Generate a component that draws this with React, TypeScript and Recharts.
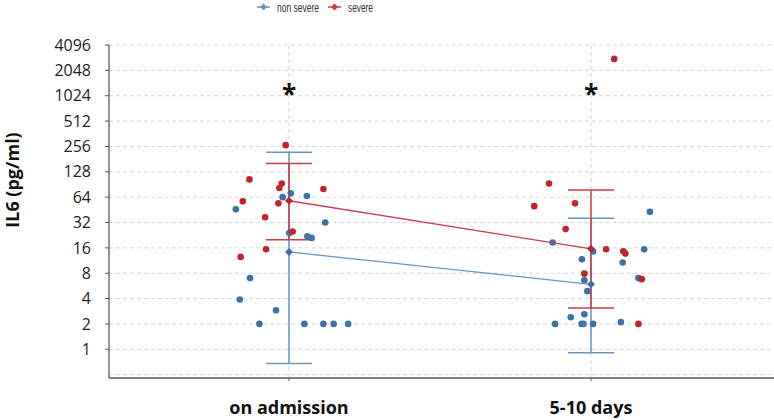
import React from 'react';
import {
  ComposedChart,
  Scatter,
  XAxis,
  YAxis,
  ErrorBar,
  ReferenceLine,
  Label,
} from 'recharts';

// category positions on the numeric x axis
const categories = ['on admission', '5-10 days'];

// y ticks (log2 spaced) and gridlines
const yTicks = [1, 2, 4, 8, 16, 32, 64, 128, 256, 512, 1024, 2048, 4096];
const gridValues = [0.5, 1, 2, 4, 8, 16, 32, 64, 128, 256, 512, 1024, 2048, 4096];

// individual patients: [x (category + jitter), IL6 pg/ml]
const nonSevereAdmission = [
  [1.006, 71], [1.059, 66], [0.979, 64], [0.824, 46], [1.12, 32], [1.001, 24],
  [1.061, 22], [1.075, 21], [0.871, 7], [0.837, 3.9], [0.957, 2.9], [0.902, 2],
  [1.051, 2], [1.114, 2], [1.148, 2], [1.196, 2],
];
const severeAdmission = [
  [0.989, 265], [0.869, 104], [0.976, 93], [0.968, 82], [1.114, 80], [0.847, 57],
  [0.965, 54], [0.921, 37], [1.012, 25], [0.924, 15.4], [0.84, 12.5],
];
const nonSevereDays = [
  [2.195, 43], [1.873, 18.5], [2.007, 14.5], [2.176, 15.4], [1.97, 11.7], [2.105, 10.7],
  [1.978, 6.6], [2.157, 7], [1.988, 4.9], [1.933, 2.4], [1.978, 2.6], [1.881, 2],
  [1.969, 2], [1.975, 2], [2.007, 2], [2.099, 2.1],
];
const severeDays = [
  [2.077, 2800], [1.861, 93], [1.812, 50], [1.947, 54], [1.916, 26.7], [2.05, 15.4],
  [2.107, 14.6], [2.114, 13.7], [1.978, 7.9], [2.168, 6.8], [2.157, 2],
];

// group means with range bars [low, high]
const nonSevereMean = [14.3, 5.9];
const nonSevereLow = [0.68, 0.91];
const nonSevereHigh = [218, 36];
const severeMean = [58, 15.6];
const severeLow = [20, 3.1];
const severeHigh = [161, 78];

const starLevel = 1200;

const BLUE = '#3f71a6';
const RED = '#c0242f';
const BLUE_LINE = '#6795c4';
const RED_LINE = '#cc3d49';

const toPoints = (rows: number[][]) => rows.map(([x, y]) => ({ x, y }));
const toSummary = (mean: number[], low: number[], high: number[]) =>
  mean.map((m, i) => ({ x: i + 1, y: m, err: [m - low[i], high[i] - m] }));

const dot = (color: string) => (props: any) => (
  <circle cx={props.cx} cy={props.cy} r={3.3} fill={color} />
);
const diamond = (color: string) => (props: any) => {
  const { cx, cy } = props;
  const s = 4;
  return <polygon points={`${cx},${cy - s} ${cx + s},${cy} ${cx},${cy + s} ${cx - s},${cy}`} fill={color} />;
};
const empty = () => <g />;
const star = (props: any) => (
  <text x={props.cx} y={props.cy + 14} textAnchor="middle" fontSize={26} fontWeight="bold" fontFamily="'Open Sans', sans-serif" fill="#111">
    *
  </text>
);

// legend drawn as a small svg strip above the plot
const legendItems = [
  { label: 'non severe', color: BLUE_LINE, x: 257, w: 42 },
  { label: 'severe', color: RED_LINE, x: 328, w: 25 },
];

const Legend = () => (
  <svg width={774} height={18} style={{ position: 'absolute', left: 0, top: 0 }}>
    {legendItems.map((it) => (
      <g key={it.label}>
        <line x1={it.x} y1={7} x2={it.x + 13} y2={7} stroke={it.color} strokeWidth={1.5} />
        <polygon
          points={`${it.x + 6.5},3.5 ${it.x + 10},7 ${it.x + 6.5},10.5 ${it.x + 3},7`}
          fill={it.color}
        />
        <text
          x={it.x + 20}
          y={12}
          fontSize={13}
          fontFamily="'Liberation Sans', Arial, sans-serif"
          fill="#333"
          textLength={it.w}
          lengthAdjust="spacingAndGlyphs"
        >
          {it.label}
        </text>
      </g>
    ))}
  </svg>
);

export default function App() {
  const fontFamily = "'Open Sans', sans-serif";
  return (
    <div style={{ position: 'absolute', left: 0, top: 0, width: 774, height: 420, background: '#fff' }}>
      <ComposedChart width={774} height={420} margin={{ top: 45, right: 0, bottom: 0, left: 0 }}>
        {gridValues.map((v) => (
          <ReferenceLine key={`g${v}`} y={v} stroke="#d6d6d6" strokeDasharray="4 3" />
        ))}
        {categories.map((c, i) => (
          <ReferenceLine key={c} x={i + 1} stroke="#d6d6d6" strokeDasharray="4 3" />
        ))}
        <XAxis
          type="number"
          dataKey="x"
          domain={[0.404, 2.606]}
          allowDataOverflow
          ticks={[1, 2]}
          tickFormatter={(v: number) => categories[Math.round(v) - 1]}
          height={42}
          tickSize={3}
          tickMargin={20}
          axisLine={{ stroke: '#5a5a5a', strokeWidth: 1.6 }}
          tickLine={{ stroke: '#5a5a5a' }}
          tick={{ fill: '#111', fontSize: 18, fontWeight: 'bold', fontFamily }}
        />
        <YAxis
          type="number"
          dataKey="y"
          scale="log"
          domain={[0.456, 4096]}
          allowDataOverflow
          ticks={yTicks}
          interval={0}
          width={109}
          tickSize={4}
          tickMargin={14}
          axisLine={{ stroke: '#5a5a5a', strokeWidth: 1.3 }}
          tickLine={{ stroke: '#5a5a5a' }}
          tick={{ fill: '#222', fontSize: 16, fontFamily }}
        >
          <Label
            content={(props: any) => {
              const vb = props.viewBox || { x: 0, y: 45 };
              const x = 12;
              const y = vb.y + 135;
              return (
                <text
                  x={x}
                  y={y}
                  transform={`rotate(-90, ${x}, ${y})`}
                  textAnchor="middle"
                  dominantBaseline="central"
                  fontSize={18}
                  fontWeight="bold"
                  fontFamily={fontFamily}
                  fill="#111"
                >
                  IL6 (pg/ml)
                </text>
              );
            }}
          />
        </YAxis>

        {/* range bars */}
        <Scatter data={toSummary(nonSevereMean, nonSevereLow, nonSevereHigh)} shape={empty} isAnimationActive={false}>
          <ErrorBar dataKey="err" direction="y" width={23} stroke={BLUE_LINE} strokeWidth={1.5} isAnimationActive={false} />
        </Scatter>
        <Scatter data={toSummary(severeMean, severeLow, severeHigh)} shape={empty} isAnimationActive={false}>
          <ErrorBar dataKey="err" direction="y" width={23} stroke={RED_LINE} strokeWidth={1.5} isAnimationActive={false} />
        </Scatter>

        {/* individual values */}
        <Scatter data={toPoints(nonSevereAdmission)} shape={dot(BLUE)} isAnimationActive={false} />
        <Scatter data={toPoints(nonSevereDays)} shape={dot(BLUE)} isAnimationActive={false} />
        <Scatter data={toPoints(severeAdmission)} shape={dot(RED)} isAnimationActive={false} />
        <Scatter data={toPoints(severeDays)} shape={dot(RED)} isAnimationActive={false} />

        {/* means */}
        <Scatter
          data={nonSevereMean.map((y, i) => ({ x: i + 1, y }))}
          line={{ stroke: BLUE_LINE, strokeWidth: 1.3 }}
          lineType="joint"
          shape={diamond(BLUE)}
          isAnimationActive={false}
        />
        <Scatter
          data={severeMean.map((y, i) => ({ x: i + 1, y }))}
          line={{ stroke: RED_LINE, strokeWidth: 1.3 }}
          lineType="joint"
          shape={diamond(RED)}
          isAnimationActive={false}
        />

        {/* significance markers */}
        <Scatter data={categories.map((_, i) => ({ x: i + 1, y: starLevel }))} shape={star} isAnimationActive={false} />
      </ComposedChart>
      <Legend />
    </div>
  );
}
